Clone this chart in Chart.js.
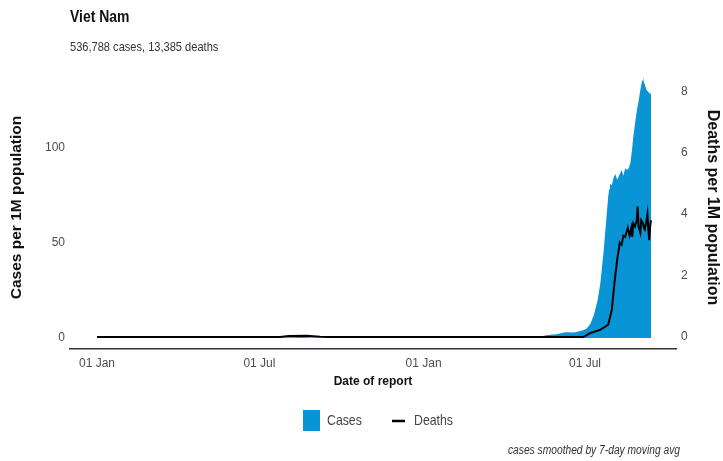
<!DOCTYPE html>
<html>
<head>
<meta charset="utf-8">
<script src="https://cdn.jsdelivr.net/npm/chart.js@4"></script>
<style>
  html, body { margin: 0; padding: 0; background: #fff; }
  #wrap { width: 723px; height: 461px; }
</style>
</head>
<body>
<div id="wrap"><canvas id="chart" width="723" height="461"></canvas></div>
<script>
// x values are days since 01 Jan 2020
const caseDays = [0, 200, 215, 230, 245, 260, 395, 400, 410, 420, 480, 497, 505, 515, 525, 535, 545, 549, 553, 557, 561, 564, 566, 568, 571, 573, 574, 575, 577, 579, 581, 583, 586, 588, 590, 592, 594, 596, 598, 600, 601, 603, 605, 607, 609, 611, 612, 613, 614, 616, 618, 620, 621];
const caseValues = [0, 0, 0.4, 0.5, 0.2, 0, 0, 0.3, 0.4, 0, 0, 0.8, 1.5, 2, 3, 2.8, 4, 5, 7.5, 12, 19.5, 28, 37, 46, 63, 74, 78, 81, 80, 84, 86, 83, 86, 88, 85, 89, 88, 89, 92, 100, 105, 112, 119, 124, 130, 135, 137, 134, 133, 130, 129, 128, 128];

const deathDays = [0, 205, 215, 235, 250, 260, 545, 553, 564, 573, 577, 580, 583, 586, 588, 590, 592, 594, 595, 597, 599, 600, 601, 603, 605, 606, 607, 609, 610, 612, 613, 614, 616, 617, 618, 619, 620, 621];
const deathValues = [0, 0, 0.03, 0.04, 0.01, 0, 0, 0.13, 0.23, 0.4, 0.88, 1.76, 2.5, 3.07, 3.0, 3.3, 3.26, 3.45, 3.55, 3.3, 3.55, 3.26, 3.7, 3.6, 3.8, 4.25, 3.6, 3.4, 3.8, 3.7, 3.55, 3.5, 3.8, 4.0, 3.5, 3.15, 3.6, 3.8];

const xTickDays = [0, 182, 366, 547];
const xTickLabels = ['01 Jan', '01 Jul', '01 Jan', '01 Jul'];
const caseTicks = [0, 50, 100];
const deathTicks = [0, 2, 4, 6, 8];

const BLUE = '#0995d5';
const SANS = '"Liberation Sans", Arial, sans-serif';

// narrow-looking text: squeeze horizontally
function narrowText(c, txt, x, y, font, align) {
    c.save();
    c.font = font;
    c.textAlign = align || 'left';
    c.textBaseline = 'middle';
    c.translate(x, y);
    c.scale(0.82, 1);
    c.fillText(txt, 0, 0);
    c.restore();
}

// titles, legend and caption
const decorations = {
    id: 'decorations',
    afterDraw(chart) {
        const c = chart.ctx;
        c.save();
        c.fillStyle = '#111';
        narrowText(c, 'Viet Nam', 70, 17, 'bold 17px ' + SANS);
        c.fillStyle = '#333';
        narrowText(c, '536,788 cases, 13,385 deaths', 70, 47, '13.5px ' + SANS);

        // legend
        c.fillStyle = BLUE;
        c.fillRect(303, 410, 17, 21);
        c.fillStyle = '#444';
        narrowText(c, 'Cases', 327, 421, '15px ' + SANS);
        c.strokeStyle = '#000';
        c.lineWidth = 2.5;
        c.beginPath();
        c.moveTo(392, 421);
        c.lineTo(405, 421);
        c.stroke();
        narrowText(c, 'Deaths', 414, 421, '15px ' + SANS);

        // caption
        c.fillStyle = '#333';
        narrowText(c, 'cases smoothed by 7-day moving avg', 680, 451, 'italic 12.5px ' + SANS, 'right');
        c.restore();
    }
};

new Chart(document.getElementById('chart'), {
    type: 'line',
    data: {
        datasets: [
            {
                label: 'Cases',
                data: caseDays.map((d, i) => ({ x: d, y: caseValues[i] })),
                yAxisID: 'y',
                borderWidth: 0,
                borderColor: BLUE,
                backgroundColor: BLUE,
                fill: 'origin',
                pointRadius: 0,
                tension: 0,
                order: 2
            },
            {
                label: 'Deaths',
                data: deathDays.map((d, i) => ({ x: d, y: deathValues[i] })),
                yAxisID: 'y1',
                borderColor: '#000',
                borderWidth: 2,
                fill: false,
                pointRadius: 0,
                tension: 0,
                order: 1
            }
        ]
    },
    options: {
        responsive: false,
        animation: false,
        layout: { padding: { top: 66, left: 0, right: 0, bottom: 0 } },
        plugins: {
            legend: { display: false },
            tooltip: { enabled: false }
        },
        scales: {
            x: {
                type: 'linear',
                min: -30.3,
                max: 649,
                grid: { display: false, drawTicks: false },
                border: { display: true, color: '#333', width: 1.5 },
                afterBuildTicks: (scale) => { scale.ticks = xTickDays.map(v => ({ value: v })); },
                afterFit: (scale) => { scale.height = 112; },
                ticks: {
                    autoSkip: false,
                    maxRotation: 0,
                    padding: 7,
                    color: '#4d4d4d',
                    font: { family: SANS, size: 12 },
                    callback: (v, i) => xTickLabels[i]
                },
                title: {
                    display: true,
                    text: 'Date of report',
                    color: '#111',
                    font: { family: SANS, size: 12, weight: 'bold' },
                    padding: { top: 0, bottom: 72 }
                }
            },
            y: {
                position: 'left',
                min: -5.8,
                max: 142.6,
                grid: { display: false, drawTicks: false },
                border: { display: false },
                afterBuildTicks: (scale) => { scale.ticks = caseTicks.map(v => ({ value: v })); },
                afterFit: (scale) => { scale.width = 70; },
                ticks: {
                    padding: 5,
                    color: '#4d4d4d',
                    font: { family: SANS, size: 12 }
                },
                title: {
                    display: true,
                    text: 'Cases per 1M population',
                    color: '#111',
                    font: { family: SANS, size: 15.5, weight: 'bold' },
                    padding: { top: 7, bottom: 0 }
                }
            },
            y1: {
                position: 'right',
                min: -0.39,
                max: 8.82,
                grid: { display: false, drawTicks: false },
                border: { display: false },
                afterBuildTicks: (scale) => { scale.ticks = deathTicks.map(v => ({ value: v })); },
                afterFit: (scale) => { scale.width = 47; },
                ticks: {
                    padding: 5,
                    color: '#4d4d4d',
                    font: { family: SANS, size: 12 }
                },
                title: {
                    display: true,
                    text: 'Deaths per 1M population',
                    color: '#111',
                    font: { family: SANS, size: 16, weight: 'bold' },
                    padding: { top: 1, bottom: 0 }
                }
            }
        }
    },
    plugins: [decorations]
});
</script>
</body>
</html>
